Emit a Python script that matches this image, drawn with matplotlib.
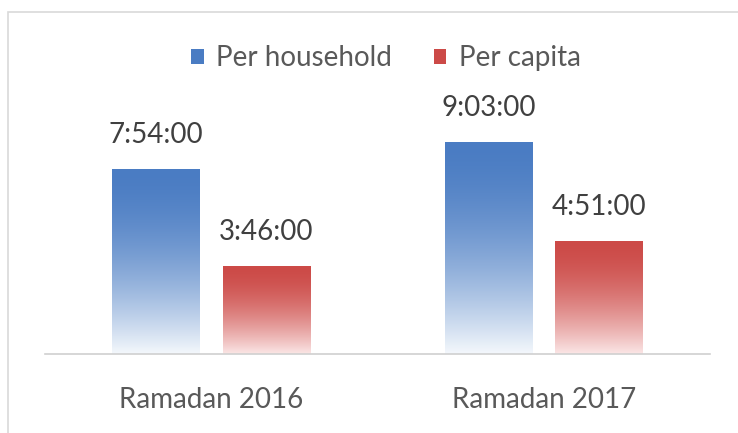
import numpy as np
import matplotlib
matplotlib.use('Agg')
import matplotlib.pyplot as plt
from matplotlib.patches import Patch, Rectangle
from matplotlib.colors import to_rgb

categories = ['Ramadan 2016', 'Ramadan 2017']
series_names = ['Per household', 'Per capita']
household = ['7:54:00', '9:03:00']
per_capita = ['3:46:00', '4:51:00']


def to_hours(s):
    h, m, sec = [int(p) for p in s.split(':')]
    return h + m / 60 + sec / 3600


plt.rcParams['font.family'] = ['Lato', 'DejaVu Sans']

fig = plt.figure(figsize=(7.38, 4.33), dpi=100)
# light frame around the chart area (only top and left edges visible)
fig.patches.append(Rectangle((8 / 738, -0.2), 1.2, 1.2 - 12 / 433,
                             transform=fig.transFigure, fill=False,
                             edgecolor='#d9d9d9', linewidth=1.2))
ax = fig.add_axes([45 / 738, 79 / 433, 665 / 738, 254 / 433])

top_cols = ['#4a7cc3', '#cc4a47']
bot_cols = ['#f4f8fc', '#fbe6e6']

x = np.arange(len(categories))
w = 0.262
off = 0.166
for i, (vals, name) in enumerate([(household, series_names[0]), (per_capita, series_names[1])]):
    hrs = [to_hours(v) for v in vals]
    bars = ax.bar(x + (off if i else -off), hrs, width=w, facecolor='none', edgecolor='none')
    c1 = np.array(to_rgb(top_cols[i]))
    c2 = np.array(to_rgb(bot_cols[i]))
    t = np.linspace(0, 1, 256) ** 1.7  # 0 at top, 1 at bottom
    grad = (c1[None, :] * (1 - t[:, None]) + c2[None, :] * t[:, None])[:, None, :]
    for b, v, lab in zip(bars, hrs, vals):
        x0 = b.get_x()
        im = ax.imshow(grad, extent=[x0, x0 + b.get_width(), 0, v], aspect='auto',
                       interpolation='bilinear', zorder=2)
        im.set_clip_path(b)
        ax.annotate(lab, (x0 + b.get_width() / 2, v), xytext=(0, 15),
                    textcoords='offset points', ha='center', va='bottom',
                    fontsize=20, color='#404040')

ax.set_xlim(-0.5, 1.5)
ax.set_ylim(0, 254 / 0.39 / 60)
ax.set_xticks(x)
ax.set_xticklabels(categories, fontsize=20, color='#595959')
ax.tick_params(axis='x', length=0, pad=24)
ax.set_yticks([])
for s in ['top', 'left', 'right']:
    ax.spines[s].set_visible(False)
ax.spines['bottom'].set_color('#d0d0d0')
ax.spines['bottom'].set_linewidth(1.2)

handles = [Patch(facecolor=top_cols[0], label=series_names[0]),
           Patch(facecolor=top_cols[1], label=series_names[1])]
fig.legend(handles=handles, loc='center', bbox_to_anchor=(0.523, 1 - 58 / 433), ncol=2,
           frameon=False, fontsize=20, labelcolor='#595959',
           handlelength=0.45, handleheight=0.45, handletextpad=0.45, columnspacing=1.5)

fig.savefig('out.png', dpi=100, facecolor='white')
